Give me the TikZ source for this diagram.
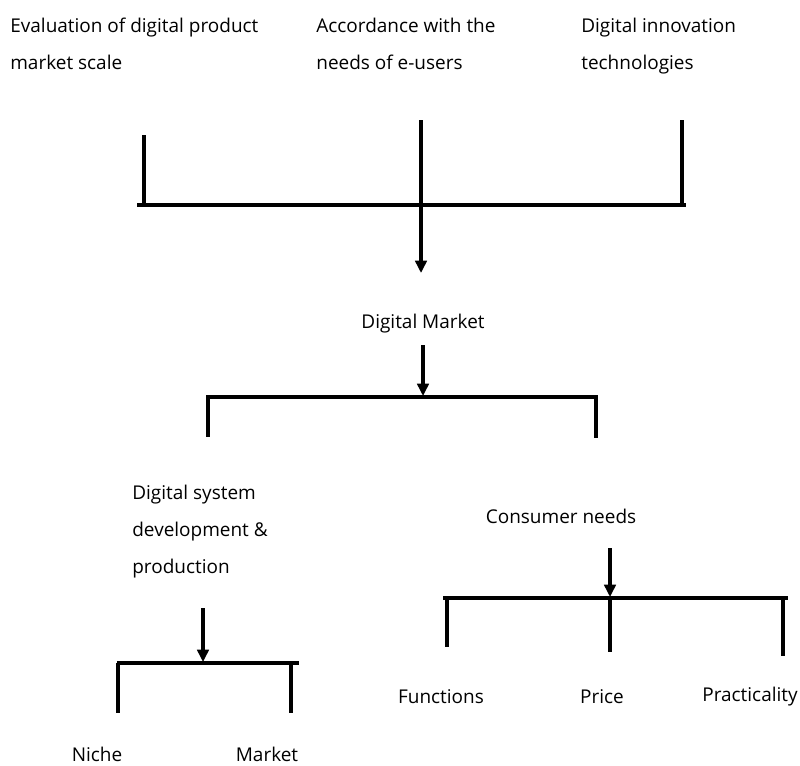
\documentclass[tikz,border=0pt]{standalone}
\usepackage{fontspec}
\setmainfont{Open Sans}
\usetikzlibrary{arrows.meta,positioning}
\begin{document}
\begin{tikzpicture}[x=0.02cm,y=-0.02cm,
	every node/.style={font=\fontsize{10.8}{21}\selectfont, inner sep=0pt},
	bar/.style={line width=2pt},
	down/.style={line width=2pt, -{Triangle[length=7pt,width=6.5pt]}},
	txt/.style={align=left, anchor=north west}]
	\useasboundingbox (0,0) rectangle (800,765);
	% factors at the top
	\node[txt] (eval) at (10,18) {Evaluation of digital product\\market scale};
	\node[txt] (accord) at (316,18) {Accordance with the\\needs of e-users};
	\node[txt] (innov) at (581,18) {Digital innovation\\technologies};
	\coordinate (b1l) at (137,205);
	\coordinate (b1r) at (686,205);
	\coordinate (v1t) at (144,135); \coordinate (v1b) at (144,205);
	\coordinate (v2t) at (421,120); \coordinate (v2b) at (421,273);
	\coordinate (v3t) at (682,120); \coordinate (v3b) at (682,205);
	\draw[bar] (b1l) -- (b1r);
	\draw[bar] (v1t) -- (v1b);
	\draw[bar] (v3t) -- (v3b);
	\draw[down] (v2t) -- (v2b);
	% digital market
	\node (market) at (423,324) {Digital Market};
	\coordinate (a1t) at (423,345); \coordinate (a1b) at (423,396);
	\coordinate (b2l) at (206,397); \coordinate (b2r) at (598,397);
	\coordinate (w1) at (208,437); \coordinate (w2) at (596,438);
	\draw[down] (a1t) -- (a1b);
	\draw[bar] (b2l) -- (b2r);
	\draw[bar] (b2l -| w1) -- (w1);
	\draw[bar] (b2l -| w2) -- (w2);
	% left branch
	\node[txt] (devel) at (132,485) {Digital system\\development \&\\production};
	\coordinate (a2t) at (203,608); \coordinate (a2b) at (203,662);
	\coordinate (b3l) at (117,663); \coordinate (b3r) at (299,663);
	\coordinate (n1) at (118,713); \coordinate (n2) at (291,713);
	\draw[down] (a2t) -- (a2b);
	\draw[bar] (b3l) -- (b3r);
	\draw[bar] (b3l -| n1) -- (n1);
	\draw[bar] (b3l -| n2) -- (n2);
	\node (niche) at (97,754) {Niche};
	\node (mkt) at (267,754) {Market};
	% right branch
	\node (needs) at (561,516) {Consumer needs};
	\coordinate (a3t) at (610,548); \coordinate (a3b) at (610,597);
	\coordinate (b4l) at (443,598); \coordinate (b4r) at (788,598);
	\coordinate (f1) at (447,647); \coordinate (f2) at (610,652); \coordinate (f3) at (783,656);
	\draw[down] (a3t) -- (a3b);
	\draw[bar] (b4l) -- (b4r);
	\draw[bar] (b4l -| f1) -- (f1);
	\draw[bar] (b4l -| f2) -- (f2);
	\draw[bar] (b4l -| f3) -- (f3);
	\node (func) at (441,697) {Functions};
	\node (price) at (602,697) {Price};
	\node (pract) at (750,697) {Practicality};
\end{tikzpicture}
\end{document}
